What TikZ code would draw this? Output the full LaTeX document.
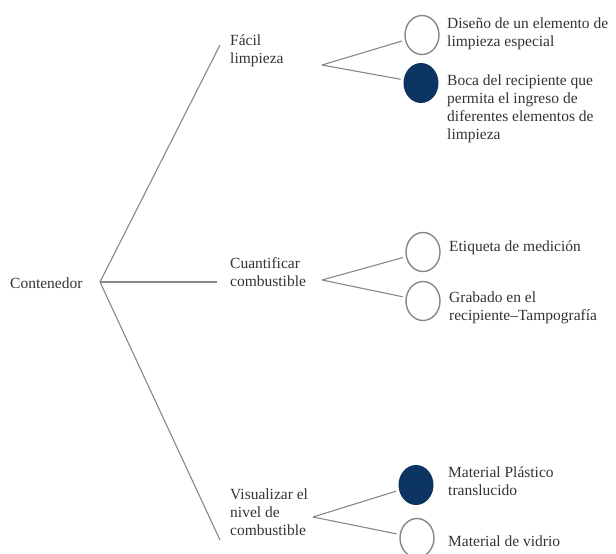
\documentclass[tikz,border=0pt]{standalone}
\usepackage{fontspec}
\setmainfont{Liberation Serif}
\usetikzlibrary{shapes.geometric}
\definecolor{navy}{RGB}{12,52,98}
\definecolor{linegray}{RGB}{135,135,135}
\begin{document}
\begin{tikzpicture}[x=1pt,y=-1pt,
  txt/.style={inner sep=0pt, anchor=west, align=left, text=black!80, font=\fontsize{15.5}{18}\selectfont},
  ring/.style={ellipse, draw=linegray, line width=1.4pt, minimum width=34pt, minimum height=39pt, inner sep=0pt},
  dot/.style={ellipse, fill=navy, minimum width=35pt, minimum height=40pt, inner sep=0pt},
  branch/.style={draw=linegray, line width=1.1pt}]
\useasboundingbox (0,0) rectangle (616,554);
% root and first level
\node[txt] (cont) at (10,283) {Contenedor};
\coordinate (root) at (100,282);
\node[txt] (facil) at (230,51) {Fácil\\limpieza};
\node[txt] (cuant) at (230,272) {Cuantificar\\combustible};
\node[txt] (visual) at (230,512) {Visualizar el\\nivel de\\combustible};
\coordinate (facil-in) at (220,45);
\coordinate (cuant-in) at (217,282);
\coordinate (visual-in) at (220,540);
\draw[branch] (root) -- (facil-in);
\draw[branch] (root) -- (cuant-in);
\draw[branch] (root) -- (visual-in);
% forks
\coordinate (facil-fork) at (322,65);
\coordinate (cuant-fork) at (322,280);
\coordinate (visual-fork) at (313,517);
% options
\node[ring] (c1) at (422,35) {};
\node[dot]  (c2) at (421,83) {};
\node[ring] (c3) at (423,252) {};
\node[ring] (c4) at (423,301) {};
\node[dot]  (c5) at (416,485) {};
\node[ring] (c6) at (417,538) {};
\draw[branch, shorten >=3pt] (facil-fork) -- (c1);
\draw[branch, shorten >=3pt] (facil-fork) -- (c2);
\draw[branch, shorten >=3pt] (cuant-fork) -- (c3);
\draw[branch, shorten >=3pt] (cuant-fork) -- (c4);
\draw[branch, shorten >=3pt] (visual-fork) -- (c5);
\draw[branch, shorten >=3pt] (visual-fork) -- (c6);
\node[txt] (t1) at (447,34) {Diseño de un elemento de\\limpieza especial};
\node[txt] (t2) at (447,109) {Boca del recipiente que\\permita el ingreso de\\diferentes elementos de\\limpieza};
\node[txt] (t3) at (449,248) {Etiqueta de medición};
\node[txt] (t4) at (449,308) {Grabado en el\\recipiente–Tampografía};
\node[txt] (t5) at (448,481) {Material Plástico\\translucido};
\node[txt] (t6) at (448,541) {Material de vidrio};
\end{tikzpicture}
\end{document}
